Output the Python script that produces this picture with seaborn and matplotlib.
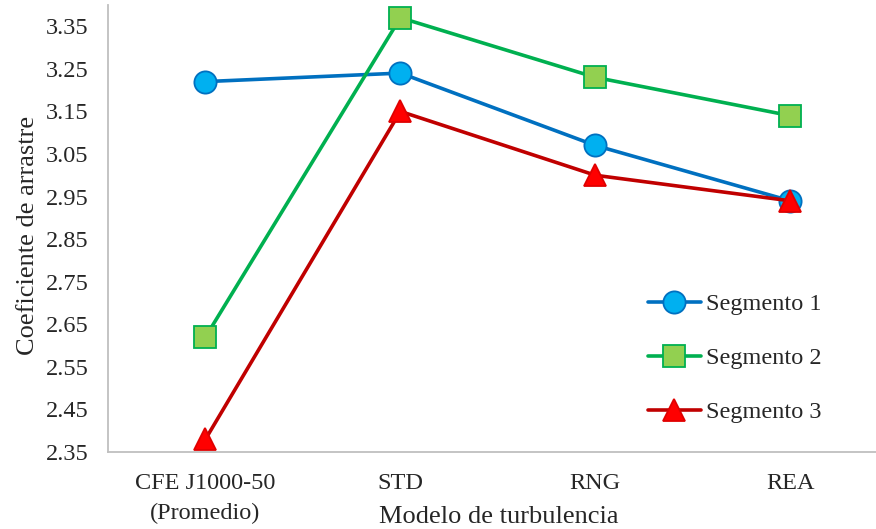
import matplotlib
matplotlib.use("Agg")
import matplotlib.pyplot as plt
import seaborn as sns
import pandas as pd

categories = ["CFE J1000-50\n(Promedio)", "STD", "RNG", "REA"]
segmento_1 = [3.22, 3.24, 3.07, 2.94]
segmento_2 = [2.62, 3.37, 3.23, 3.14]
segmento_3 = [2.38, 3.15, 3.00, 2.94]
series_names = ["Segmento 1", "Segmento 2", "Segmento 3"]
y_ticks = [2.35, 2.45, 2.55, 2.65, 2.75, 2.85, 2.95, 3.05, 3.15, 3.25, 3.35]

sns.set_theme(style="white")
plt.rcParams["font.family"] = ["Liberation Serif", "DejaVu Serif"]

styles = {
    "Segmento 1": dict(color="#0070C0", marker="o", mfc="#00B0F0", mec="#0070C0", ms=16),
    "Segmento 2": dict(color="#00B050", marker="s", mfc="#92D050", mec="#00B050", ms=15.5),
    "Segmento 3": dict(color="#C00000", marker="^", mfc="#FF0000", mec="#E00000", ms=16.5),
}

frames = []
for name, vals in zip(series_names, [segmento_1, segmento_2, segmento_3]):
    frames.append(pd.DataFrame({"pos": range(len(categories)), "valor": vals, "serie": name}))
df = pd.concat(frames, ignore_index=True)

fig = plt.figure(figsize=(8.76, 5.29), dpi=100)
ax = fig.add_axes([0.1233, 0.1456, 0.8767, 0.845])

for name in series_names:
    st = styles[name]
    sns.lineplot(
        data=df[df["serie"] == name], x="pos", y="valor", ax=ax, sort=False,
        color=st["color"], linewidth=2.6, marker=st["marker"],
        markerfacecolor=st["mfc"], markeredgecolor=st["mec"], markeredgewidth=1.3,
        markersize=st["ms"], label=name, clip_on=False, zorder=3,
    )

ax.set_xlim(-0.5, 3.44)
ax.set_ylim(2.35, 3.40)
ax.set_xticks(range(len(categories)))
ax.set_xticklabels(categories, fontsize=17.5, linespacing=1.55)
ax.set_yticks(y_ticks)
ax.set_yticklabels([f"{v:.2f}" for v in y_ticks], fontsize=17.5)
ax.tick_params(axis="x", length=0, pad=15)
ax.tick_params(axis="y", length=0, pad=14)
ax.set_xlabel("Modelo de turbulencia", fontsize=19)
ax.set_ylabel("Coeficiente de arrastre", fontsize=19)
ax.xaxis.set_label_coords(0.509, -0.121)
ax.yaxis.set_label_coords(-0.09, 0.485)

for side in ["top", "right"]:
    ax.spines[side].set_visible(False)
for side in ["left", "bottom"]:
    ax.spines[side].set_color("#BFBFBF")
    ax.spines[side].set_linewidth(1.3)

leg = ax.legend(loc="upper left", bbox_to_anchor=(0.674, 0.404), frameon=False,
                fontsize=17.5, labelspacing=1.32, handlelength=2.2, handletextpad=0.2)

fig.savefig("out.png", dpi=100)
